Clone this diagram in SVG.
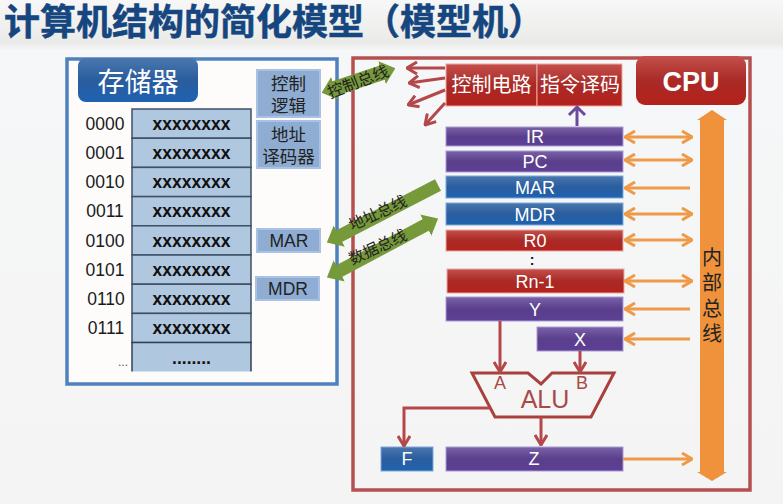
<svg xmlns="http://www.w3.org/2000/svg" width="783" height="504" viewBox="0 0 783 504">
<style>
text{font-family:"Liberation Sans","Noto Sans CJK SC",sans-serif;text-anchor:middle}
.ttl{font-size:36px;font-weight:700;fill:#15467f;stroke:#15467f;stroke-width:.5;text-anchor:start}
.addr{font-size:17.5px;fill:#1a1a1a}
.cell{fill:#b0c7e0;stroke:#3e5068;stroke-width:1.5}
.val{font-size:17.5px;font-weight:700;fill:#111}
.lb{fill:#8fadd3;stroke:#a9c1e2;stroke-width:2}
.lt{font-size:17.5px;fill:#222}
.w{fill:#fff;font-size:18px}
.purple{fill:url(#gp);stroke:#a99bd6;stroke-width:1}
.blue{fill:url(#gb);stroke:#7fa8dc;stroke-width:1}
.red{fill:url(#gr);stroke:#eda7a2;stroke-width:1}
.or{fill:none;stroke:#ef9a48;stroke-width:3;marker-end:url(#ao)}
.or2{fill:none;stroke:#ef9a48;stroke-width:3;marker-end:url(#ao);marker-start:url(#ao)}
.rd{fill:none;stroke:#b4474a;stroke-width:3;marker-end:url(#ar)}
.gn{fill:none;stroke:#76993a;stroke-width:13}
.bus{font-size:15.5px;fill:#222}
</style>
<defs>
<linearGradient id="bg" x1="0" y1="0" x2="0" y2="1"><stop offset="0" stop-color="#f7f7f7"/><stop offset="0.085" stop-color="#eaeae8"/><stop offset="0.1" stop-color="#f6f7f8"/><stop offset="1" stop-color="#f4f4f4"/></linearGradient>
<linearGradient id="gp" x1="0" y1="0" x2="0" y2="1"><stop offset="0" stop-color="#7a62a8"/><stop offset="0.5" stop-color="#5a3f8c"/><stop offset="1" stop-color="#5d3f95"/></linearGradient>
<linearGradient id="gb" x1="0" y1="0" x2="0" y2="1"><stop offset="0" stop-color="#4a78ae"/><stop offset="0.5" stop-color="#2a5d9e"/><stop offset="1" stop-color="#1f62b0"/></linearGradient>
<linearGradient id="gr" x1="0" y1="0" x2="0" y2="1"><stop offset="0" stop-color="#c4504c"/><stop offset="0.5" stop-color="#a92a26"/><stop offset="1" stop-color="#b5211c"/></linearGradient>
<marker id="ao" viewBox="0 0 12 14" refX="11" refY="7" markerWidth="12" markerHeight="14" markerUnits="userSpaceOnUse" orient="auto-start-reverse"><path d="M1 1L11 7L1 13" fill="none" stroke="#ef9a48" stroke-width="3"/></marker>
<marker id="ar" viewBox="0 0 12 14" refX="11" refY="7" markerWidth="12" markerHeight="14" markerUnits="userSpaceOnUse" orient="auto-start-reverse"><path d="M1 1L11 7L1 13" fill="none" stroke="#b4474a" stroke-width="3"/></marker>
<marker id="ag" viewBox="0 0 14 24" refX="1" refY="12" markerWidth="14" markerHeight="24" markerUnits="userSpaceOnUse" orient="auto-start-reverse"><path d="M0 0L14 12L0 24Z" fill="#76993a"/></marker>
</defs>
<rect width="783" height="504" fill="url(#bg)"/>
<text class="ttl" x="4" y="35">计算机结构的简化模型（模型机）</text>

<g id="memory">
<rect x="67" y="59" width="270" height="325" fill="#fdfcfb" stroke="#4f81bd" stroke-width="3.5"/>
<g id="memory-title"><rect x="78" y="58" width="120" height="44" rx="8" fill="url(#gb)"/><text class="w" x="138" y="92" style="font-size:27px">存储器</text></g>
<g id="cells">
<rect class="cell" x="132" y="109" width="119" height="29.2"/>
<rect class="cell" x="132" y="138.2" width="119" height="29.2"/>
<rect class="cell" x="132" y="167.4" width="119" height="29.2"/>
<rect class="cell" x="132" y="196.6" width="119" height="29.2"/>
<rect class="cell" x="132" y="225.8" width="119" height="29.2"/>
<rect class="cell" x="132" y="255" width="119" height="29.2"/>
<rect class="cell" x="132" y="284.2" width="119" height="29.2"/>
<rect class="cell" x="132" y="313.4" width="119" height="29.2"/>
<path d="M132 342.6V371.5H251V342.6Z" fill="#b0c7e0"/><path d="M132 371.5V342.6H251V371.5" fill="none" stroke="#2f4158" stroke-width="1.5"/>
<text class="val" x="191.500" y="130">xxxxxxxx</text>
<text class="val" x="191.500" y="159">xxxxxxxx</text>
<text class="val" x="191.500" y="188">xxxxxxxx</text>
<text class="val" x="191.500" y="217">xxxxxxxx</text>
<text class="val" x="191.500" y="247">xxxxxxxx</text>
<text class="val" x="191.500" y="276">xxxxxxxx</text>
<text class="val" x="191.500" y="305">xxxxxxxx</text>
<text class="val" x="191.500" y="334">xxxxxxxx</text>
<text class="val" x="191.500" y="364">........</text>
</g>
<g id="addresses">
<text class="addr" x="105" y="130">0000</text>
<text class="addr" x="105" y="159">0001</text>
<text class="addr" x="105" y="188">0010</text>
<text class="addr" x="105" y="217">0011</text>
<text class="addr" x="105" y="247">0100</text>
<text class="addr" x="105" y="276">0101</text>
<text class="addr" x="106" y="305">0110</text>
<text class="addr" x="106" y="334">0111</text>
<text class="addr" x="123" y="366" style="font-size:12px;fill:#555">...</text>
</g>
<g id="ctl-logic"><rect class="lb" x="257" y="70" width="63" height="47"/><text class="lt" x="288.500" y="90">控制</text><text class="lt" x="288.500" y="112">逻辑</text></g>
<g id="addr-decoder"><rect class="lb" x="257" y="121" width="63" height="47"/><text class="lt" x="288.500" y="141">地址</text><text class="lt" x="288.500" y="163">译码器</text></g>
<g id="mem-mar"><rect class="lb" x="257" y="229" width="63" height="23"/><text class="lt" x="289" y="247">MAR</text></g>
<g id="mem-mdr"><rect class="lb" x="256" y="277" width="63" height="23"/><text class="lt" x="288" y="295">MDR</text></g>
</g>

<rect id="cpu-frame" x="353" y="58" width="397" height="432" fill="none" stroke="#b5504f" stroke-width="3.5"/>
<g id="cpu-title"><rect x="636" y="56" width="110" height="49" rx="9" fill="url(#gr)"/><text x="691" y="91" style="font-size:27px;font-weight:700;fill:#fff">CPU</text></g>
<g id="ctl-circuit"><rect class="red" x="446" y="64" width="91" height="42"/><text class="w" x="491.500" y="92" style="font-size:20px">控制电路</text></g>
<g id="ins-decode"><rect class="red" x="537" y="64" width="85" height="42"/><text class="w" x="580" y="92" style="font-size:20px">指令译码</text></g>
<g id="ir"><rect class="purple" x="446" y="127" width="177" height="19"/><text class="w" x="535" y="143">IR</text></g>
<g id="pc"><rect class="purple" x="446" y="151" width="177" height="21"/><text class="w" x="535" y="168">PC</text></g>
<g id="mar"><rect class="blue" x="446" y="176" width="177" height="22"/><text class="w" x="535" y="194">MAR</text></g>
<g id="mdr"><rect class="blue" x="446" y="203" width="177" height="22"/><text class="w" x="535" y="221">MDR</text></g>
<g id="r0"><rect class="red" x="446" y="230" width="177" height="21"/><text class="w" x="535" y="247">R0</text></g>
<text x="532" y="265" style="font-size:14px;font-weight:700;fill:#111">:</text>
<g id="rn1"><rect class="red" x="447" y="269" width="177" height="24"/><text class="w" x="535" y="288">Rn-1</text></g>
<g id="y"><rect class="purple" x="446" y="297" width="177" height="24"/><text class="w" x="535" y="316">Y</text></g>
<g id="x"><rect class="purple" x="537" y="327" width="86" height="24"/><text class="w" x="580" y="346">X</text></g>
<g id="z"><rect class="purple" x="446" y="447" width="177" height="24"/><text class="w" x="534" y="465">Z</text></g>
<g id="f"><rect class="blue" x="381" y="447" width="52" height="24"/><text class="w" x="407" y="465">F</text></g>
<g id="alu"><path d="M472 373H528L541 384L552 373H614L591 417H495Z" fill="none" stroke="#a8403d" stroke-width="3"/>
<text x="500" y="389" style="font-size:18px;fill:#a84a48">A</text>
<text x="582" y="389" style="font-size:18px;fill:#a84a48">B</text>
<text x="545" y="408" style="font-size:25px;fill:#a84a48">ALU</text></g>
<g id="bus"><path d="M712 110L727 120H724V472H727L712 481L697 472H700V120H697Z" fill="#f0923b"/>
<text class="lt" x="712" y="265" style="font-size:20px">内</text><text class="lt" x="712" y="290" style="font-size:20px">部</text><text class="lt" x="712" y="316" style="font-size:20px">总</text><text class="lt" x="712" y="341" style="font-size:20px">线</text></g>

<g id="connectors">
<path class="rd" d="M445 68H407"/><path class="rd" d="M445 78L409 83"/><path class="rd" d="M445 90L408 105"/><path class="rd" d="M445 103L425 125"/>
<path d="M577 126V107M569 115L577 107L585 115" fill="none" stroke="#6a4c9c" stroke-width="3"/>
<path class="or2" d="M625 137H692"/><path class="or2" d="M625 160H692"/><path class="or" d="M690 188H625"/><path class="or2" d="M625 214H692"/><path class="or2" d="M625 240H692"/><path class="or2" d="M625 281H692"/><path class="or" d="M690 309H625"/><path class="or" d="M690 339H625"/><path class="or" d="M623 459H692"/>
<path class="rd" d="M500 321V372"/><path class="rd" d="M580 351V372"/><path class="rd" d="M490 408H404V446"/><path class="rd" d="M541 417V445"/>
<path class="gn" style="stroke-width:15" d="M334 88.600L383 72.400" marker-start="url(#ag)" marker-end="url(#ag)"/>
<path class="gn" d="M438 185L338.400 236.600" marker-end="url(#ag)"/>
<path class="gn" d="M338.400 271.400L426.600 224.600" marker-start="url(#ag)" marker-end="url(#ag)"/>
<text class="bus" style="font-size:16px" transform="translate(360 87) rotate(-21)">控制总线</text>
<text class="bus" transform="translate(380 218) rotate(-25)">地址总线</text>
<text class="bus" transform="translate(380 252) rotate(-25)">数据总线</text>
</g>
</svg>
